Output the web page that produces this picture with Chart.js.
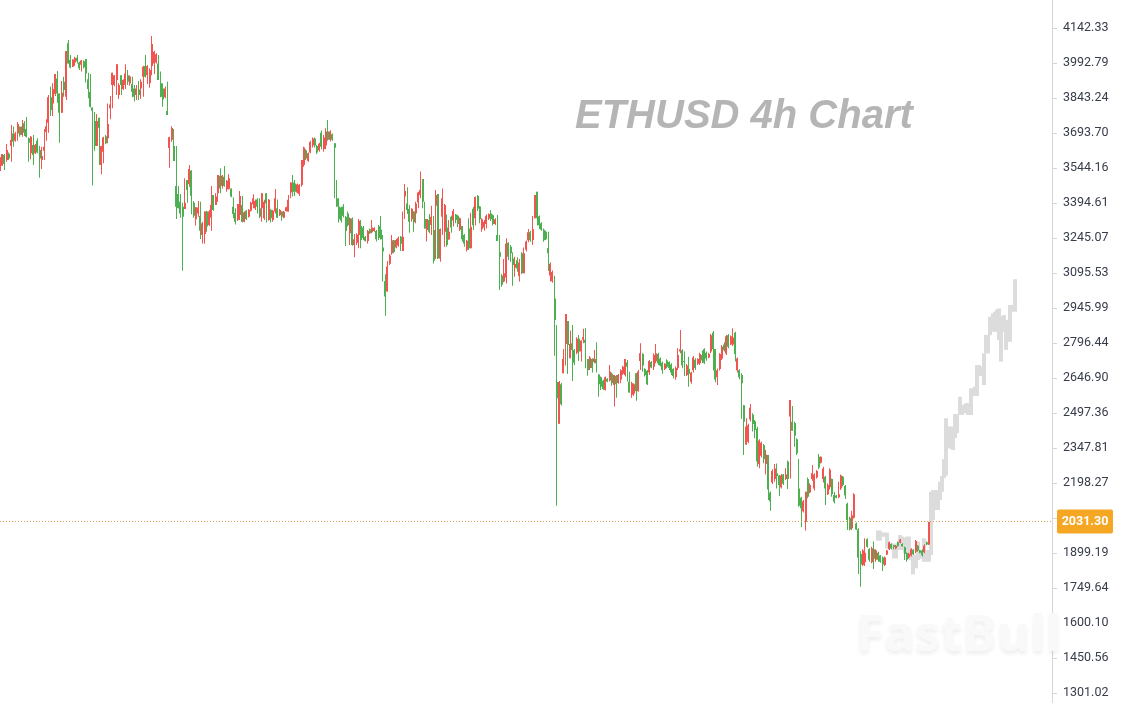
<!DOCTYPE html>
<html>
<head>
    <title>ETHUSD 4h Chart</title>
    <script src="https://cdnjs.cloudflare.com/ajax/libs/Chart.js/4.4.1/chart.umd.min.js"></script>
    <style>
        html, body { margin: 0; padding: 0; background: #fff; overflow: hidden; }
        .wrap { position: relative; width: 1123px; height: 703px; }
        canvas { display: block; }
        .title {
            position: absolute; left: 575px; top: 92px;
            font: italic bold 40px "Liberation Sans", Arial, sans-serif;
            color: #b5b5b5; white-space: nowrap;
        }
        .mark {
            position: absolute; left: 856px; top: 606px;
            font: bold 51px/50px "Open Sans", sans-serif;
            color: #f9f9f9; white-space: nowrap;
            text-shadow: 0 3px 4px rgba(0,0,0,0.07);
        }
    </style>
</head>
<body>
    <div class="wrap">
        <canvas id="ethChart" width="1123" height="703"></canvas>
        <div class="title">ETHUSD 4h Chart</div>
        <div class="mark">FastBull</div>
    </div>

    <script>
        // one slot per 4h bar, the tail of the axis stays empty
        const labels = Array.from({ length: 479 }, (_, i) => i);

        const highs = [
            3590,3604,3604,3647,3610,3728,3721,3699,3741,3721,
            3749,3745,3762,3675,3681,3685,3647,3671,3638,3635,
            3711,3753,3856,3892,3906,3946,3959,3863,3916,3934,
            4044,4091,4027,4008,4020,4027,3998,4006,4003,4010,
            3951,3946,3803,3783,3775,3759,3638,3678,3685,3820,
            3852,3951,3941,3988,3906,3941,3923,3988,3963,3939,
            3934,3899,3899,3916,3923,3981,4027,3984,3970,4108,
            4045,4034,4027,3956,3906,3892,3913,3678,3723,3711,
            3638,3467,3433,3396,3500,3493,3557,3533,3403,3376,
            3403,3400,3315,3358,3362,3365,3467,3429,3436,3514,
            3543,3514,3553,3493,3517,3457,3419,3372,3390,3446,
            3425,3358,3365,3369,3400,3432,3410,3415,3415,3436,
            3408,3436,3412,3369,3365,3454,3410,3369,3358,3360,
            3379,3429,3482,3514,3493,3478,3476,3578,3635,3624,
            3610,3661,3675,3675,3642,3652,3704,3685,3714,3749,
            3706,3692,3650,3493,3415,3379,3390,3339,3358,3333,
            3333,3262,3265,3326,3322,3296,3254,3279,3286,3322,
            3291,3279,3301,3339,3258,3090,3147,3177,3258,3237,
            3241,3251,3254,3358,3476,3462,3386,3372,3358,3400,
            3443,3529,3497,3400,3326,3348,3383,3339,3450,3433,
            3286,3457,3390,3346,3322,3341,3369,3348,3343,3333,
            3296,3262,3237,3329,3353,3379,3422,3429,3382,3329,
            3322,3346,3350,3365,3346,3329,3343,3258,3091,3155,
            3244,3227,3215,3184,3165,3163,3155,3184,3205,3234,
            3284,3276,3339,3429,3443,3341,3312,3286,3276,3272,
            3140,3106,3084,2873,2634,2626,2771,2920,2891,2849,
            2873,2771,2821,2831,2807,2857,2859,2728,2741,2731,
            2767,2800,2663,2653,2639,2653,2646,2703,2670,2660,
            2660,2664,2684,2699,2728,2724,2674,2631,2625,2667,
            2681,2795,2753,2689,2681,2724,2720,2753,2792,2755,
            2735,2717,2710,2727,2717,2710,2689,2696,2774,2852,
            2770,2760,2707,2738,2674,2741,2731,2731,2755,2764,
            2774,2760,2755,2835,2848,2771,2688,2753,2788,2800,
            2831,2835,2828,2859,2845,2735,2684,2667,2532,2475,
            2451,2536,2496,2468,2439,2385,2375,2365,2340,2318,
            2162,2257,2279,2282,2232,2237,2237,2261,2294,2553,
            2527,2460,2389,2301,2140,2126,2161,2222,2197,2275,
            2240,2254,2322,2311,2268,2228,2197,2261,2218,2161,
            2147,2204,2235,2228,2190,2114,2054,2080,2154,2029,
            2005,1908,1915,1962,1962,1919,1926,1948,1915,1905,
            1891,1884,1884,1912,1948,1941,1933,1933,1948,1959,
            1941,1926,1901,1900,1919,1915,1955,1933,1912,1915,
            1937,1948,2033
        ];
        const lows = [
            3531,3554,3536,3571,3578,3571,3635,3656,3661,3678,
            3678,3681,3675,3571,3582,3557,3604,3607,3503,3540,
            3578,3661,3695,3766,3766,3852,3823,3652,3780,3849,
            3835,3991,3970,3977,3981,3991,3963,3956,3970,3909,
            3842,3803,3469,3618,3638,3557,3518,3564,3646,3650,
            3753,3800,3894,3856,3839,3856,3877,3882,3899,3896,
            3846,3828,3835,3835,3839,3849,3931,3903,3887,3941,
            3946,3991,3920,3846,3806,3842,3771,3545,3656,3574,
            3326,3372,3332,3105,3369,3396,3464,3347,3332,3298,
            3336,3241,3222,3220,3272,3296,3276,3362,3386,3400,
            3436,3457,3464,3443,3453,3419,3329,3303,3318,3322,
            3311,3312,3322,3333,3358,3372,3365,3350,3329,3315,
            3322,3311,3319,3311,3315,3350,3332,3339,3319,3329,
            3358,3358,3415,3422,3425,3436,3425,3464,3550,3578,
            3571,3607,3632,3632,3604,3614,3624,3614,3624,3661,
            3657,3661,3415,3379,3311,3311,3333,3211,3294,3215,
            3212,3163,3215,3201,3201,3237,3230,3222,3262,3265,
            3272,3230,3237,3239,3059,2913,3016,3130,3173,3180,
            3201,3208,3190,3190,3326,3348,3268,3315,3272,3308,
            3372,3415,3372,3286,3230,3265,3258,3136,3155,3155,
            3144,3258,3208,3208,3239,3268,3294,3308,3291,3275,
            3230,3208,3187,3194,3201,3279,3298,3360,3308,3272,
            3276,3286,3322,3318,3298,3301,3232,3023,3037,3056,
            3051,3151,3144,3041,3080,3101,3059,3091,3094,3187,
            3227,3229,3215,3329,3298,3284,3276,3229,3237,3104,
            3059,3054,2742,2101,2451,2529,2667,2700,2664,2731,
            2634,2703,2748,2720,2717,2795,2689,2657,2681,2670,
            2710,2670,2567,2596,2596,2593,2629,2632,2614,2525,
            2563,2622,2625,2660,2653,2632,2585,2563,2570,2550,
            2589,2681,2674,2653,2617,2660,2689,2681,2710,2703,
            2696,2664,2681,2689,2681,2660,2646,2639,2681,2753,
            2689,2656,2656,2610,2622,2670,2681,2703,2703,2710,
            2707,2721,2731,2753,2679,2629,2617,2679,2724,2760,
            2745,2774,2788,2784,2717,2670,2642,2472,2318,2361,
            2368,2461,2418,2390,2268,2261,2307,2283,2236,2126,
            2080,2194,2204,2175,2143,2175,2190,2211,2173,2218,
            2422,2353,2318,2097,2009,2072,1995,2133,2154,2208,
            2166,2218,2257,2282,2200,2104,2147,2171,2140,2111,
            2133,2133,2168,2183,2130,1997,1995,1997,2047,1997,
            1810,1755,1844,1844,1923,1862,1855,1831,1862,1862,
            1858,1822,1844,1891,1912,1915,1915,1915,1926,1941,
            1926,1869,1862,1875,1884,1891,1898,1905,1898,1884,
            1898,1933,1933
        ];
        const opens = [
            3554,3554,3600,3578,3605,3638,3692,3661,3692,3720,
            3685,3735,3711,3671,3607,3642,3607,3661,3621,3578,
            3618,3698,3738,3846,3820,3860,3927,3863,3780,3913,
            3849,4077,4006,3977,3995,4015,3995,3985,4000,4010,
            3923,3870,3803,3745,3638,3759,3557,3614,3680,3671,
            3800,3899,3899,3920,3856,3941,3882,3899,3941,3905,
            3903,3884,3856,3880,3884,3934,3980,3941,3906,3980,
            3991,3995,3991,3906,3884,3846,3788,3630,3665,3638,
            3467,3433,3400,3379,3369,3493,3476,3533,3396,3325,
            3350,3339,3258,3262,3358,3301,3332,3429,3386,3436,
            3511,3467,3507,3453,3453,3455,3379,3353,3322,3343,
            3386,3315,3362,3336,3362,3389,3372,3410,3372,3372,
            3330,3436,3322,3365,3322,3358,3372,3342,3358,3332,
            3360,3358,3439,3482,3478,3440,3433,3472,3557,3620,
            3575,3610,3640,3670,3638,3620,3695,3625,3640,3700,
            3665,3688,3650,3415,3380,3375,3380,3335,3350,3265,
            3328,3215,3225,3258,3296,3290,3250,3232,3283,3270,
            3275,3275,3295,3280,3205,3060,3016,3135,3180,3235,
            3205,3213,3250,3190,3422,3393,3369,3325,3358,3350,
            3397,3429,3497,3326,3279,3322,3301,3279,3383,3433,
            3158,3336,3272,3290,3239,3336,3320,3345,3340,3280,
            3295,3258,3195,3286,3201,3370,3330,3425,3380,3282,
            3290,3305,3327,3350,3342,3305,3258,3184,3085,3059,
            3076,3225,3208,3158,3118,3150,3083,3180,3094,3195,
            3235,3270,3237,3329,3443,3338,3308,3280,3272,3201,
            3085,3060,2987,2630,2451,2620,2667,2792,2891,2731,
            2795,2767,2755,2815,2760,2810,2810,2728,2690,2728,
            2715,2728,2662,2650,2635,2597,2644,2636,2665,2617,
            2655,2626,2640,2665,2660,2713,2631,2575,2580,2667,
            2590,2720,2750,2685,2678,2670,2715,2695,2718,2750,
            2730,2712,2685,2722,2715,2705,2685,2650,2690,2760,
            2765,2720,2660,2685,2630,2680,2725,2708,2710,2745,
            2770,2755,2735,2760,2840,2771,2650,2685,2730,2790,
            2752,2830,2790,2790,2840,2680,2680,2660,2530,2363,
            2375,2470,2490,2462,2430,2280,2315,2360,2280,2318,
            2158,2200,2215,2240,2230,2180,2235,2215,2290,2482,
            2460,2455,2385,2175,2135,2078,2033,2215,2158,2215,
            2175,2222,2310,2285,2215,2225,2150,2180,2215,2147,
            2145,2137,2175,2225,2185,2110,2050,2005,2050,2025,
            2000,1895,1848,1860,1958,1915,1860,1915,1870,1900,
            1888,1880,1848,1893,1915,1938,1932,1918,1945,1943,
            1938,1924,1898,1880,1888,1912,1905,1930,1910,1910,
            1902,1945,1935
        ];
        const closes = [
            3585,3604,3561,3621,3585,3664,3656,3692,3732,3685,
            3721,3695,3678,3652,3678,3600,3642,3610,3585,3595,
            3635,3723,3846,3792,3882,3946,3863,3780,3866,3877,
            4044,3991,3974,4008,4015,4000,3970,4004,3975,3948,
            3882,3806,3789,3638,3745,3716,3638,3675,3650,3732,
            3816,3951,3941,3988,3899,3899,3920,3948,3913,3935,
            3870,3849,3884,3856,3913,3977,3934,3980,3963,4074,
            4041,4030,3920,3849,3837,3884,3771,3676,3715,3574,
            3379,3372,3350,3336,3396,3450,3540,3426,3340,3376,
            3375,3276,3308,3358,3294,3358,3386,3365,3422,3514,
            3457,3511,3467,3490,3500,3422,3348,3315,3390,3425,
            3315,3355,3326,3365,3396,3415,3403,3379,3336,3436,
            3400,3393,3408,3329,3362,3415,3332,3365,3336,3357,
            3376,3408,3482,3443,3443,3475,3472,3578,3632,3585,
            3607,3655,3670,3640,3610,3648,3635,3675,3700,3665,
            3700,3665,3631,3380,3325,3320,3340,3275,3300,3330,
            3215,3240,3260,3319,3237,3245,3232,3275,3265,3290,
            3288,3240,3245,3240,3187,2995,3123,3170,3235,3185,
            3237,3245,3220,3250,3446,3365,3315,3370,3312,3393,
            3440,3450,3400,3286,3326,3272,3336,3148,3429,3158,
            3284,3415,3386,3215,3272,3290,3360,3322,3305,3330,
            3240,3222,3233,3201,3293,3300,3420,3370,3325,3325,
            3315,3340,3348,3325,3305,3325,3232,3165,3045,3095,
            3220,3165,3180,3130,3134,3115,3140,3095,3180,3230,
            3270,3235,3282,3429,3330,3300,3280,3235,3240,3180,
            3135,3100,2895,2560,2630,2535,2728,2920,2788,2792,
            2767,2712,2815,2760,2807,2822,2798,2680,2735,2690,
            2730,2710,2620,2610,2600,2650,2632,2675,2625,2660,
            2620,2660,2680,2695,2728,2695,2585,2625,2620,2590,
            2675,2753,2700,2660,2620,2720,2692,2745,2753,2710,
            2700,2680,2708,2695,2690,2670,2655,2690,2745,2770,
            2700,2715,2700,2665,2670,2735,2690,2728,2750,2722,
            2712,2730,2750,2830,2770,2640,2680,2750,2780,2765,
            2825,2780,2825,2820,2750,2730,2650,2625,2460,2440,
            2445,2520,2450,2425,2290,2380,2370,2300,2320,2170,
            2120,2250,2260,2228,2190,2230,2195,2235,2215,2553,
            2422,2400,2325,2101,2090,2120,2161,2140,2190,2240,
            2235,2250,2265,2310,2260,2175,2190,2255,2150,2118,
            2135,2150,2230,2190,2145,2040,2000,2060,2150,2000,
            1880,1850,1910,1900,1925,1870,1920,1875,1910,1870,
            1862,1850,1880,1910,1945,1920,1925,1930,1930,1957,
            1928,1895,1870,1895,1915,1895,1950,1910,1900,1890,
            1930,1935,2031.3
        ];

        // grey projected path, starts at bar 399
        const ghostStart = 399;
        const ghostHigh = [
            1995,1995,1986,1986,1986,1940,1937,1940,1926,1940,
            1976,1969,1966,1969,1969,1919,1891,1891,1948,1912,
            1912,1962,1912,1912,2161,2168,2168,2168,2204,2228,
            2300,2475,2440,2439,2411,2493,2493,2567,2532,2532,
            2539,2539,2603,2603,2610,2702,2702,2695,2752,2831,
            2831,2909,2923,2930,2940,2944,2909,2916,2895,2895,
            2959,2959,3069
        ];
        const ghostLow = [
            1952,1952,1969,1969,1919,1919,1912,1876,1876,1912,
            1915,1912,1898,1898,1884,1869,1808,1834,1869,1876,
            1876,1862,1862,1862,1891,2040,2083,2083,2126,2161,
            2220,2230,2346,2346,2339,2390,2411,2489,2489,2496,
            2503,2489,2489,2570,2570,2570,2655,2655,2617,2752,
            2752,2830,2845,2845,2845,2809,2717,2845,2767,2802,
            2802,2930,2930
        ];

        const tickValues = [4142.33,3992.79,3843.24,3693.70,3544.16,3394.61,3245.07,3095.53,2945.99,2796.44,2646.90,2497.36,2347.81,2198.27,2048.73,1899.19,1749.64,1600.10,1450.56,1301.02];
        const hiddenTick = 2048.73; // sits under the price tag
        const lastPrice = 2031.30;

        const upColor = '#f2544f';
        const downColor = '#4caf50';
        const barColors = closes.map((c, i) => c >= opens[i] ? upColor : downColor);
        const ghostBars = labels.map((_, i) => {
            const k = i - ghostStart;
            return k >= 0 && k < ghostHigh.length ? [ghostLow[k], ghostHigh[k]] : null;
        });

        // snap bars to whole pixels so the thin wicks stay crisp
        const snapBars = {
            id: 'snapBars',
            afterDatasetsUpdate(chart) {
                chart.data.datasets.forEach((ds, d) => {
                    chart.getDatasetMeta(d).data.forEach(el => {
                        el.x = ds.barThickness === 1 ? Math.floor(el.x) + 0.5 : Math.round(el.x);
                    });
                });
            }
        };

        const priceTag = {
            id: 'priceTag',
            afterDraw(chart) {
                const ctx = chart.ctx;
                const y = Math.round(chart.scales.y.getPixelForValue(lastPrice)) - 0.5;
                ctx.save();
                ctx.strokeStyle = '#d8a24a';
                ctx.lineWidth = 1;
                ctx.setLineDash([1, 2]);
                ctx.beginPath();
                ctx.moveTo(0, y);
                ctx.lineTo(chart.chartArea.right, y);
                ctx.stroke();
                ctx.setLineDash([]);
                ctx.fillStyle = '#f5a623';
                ctx.beginPath();
                ctx.roundRect(1057, y - 12, 56, 24, 2);
                ctx.fill();
                ctx.fillStyle = '#fff';
                ctx.font = 'bold 12.5px Roboto';
                ctx.textAlign = 'center';
                ctx.textBaseline = 'middle';
                ctx.fillText(lastPrice.toFixed(2), 1085, y + 0.5);
                ctx.restore();
            }
        };

        new Chart(document.getElementById('ethChart'), {
            type: 'bar',
            data: {
                labels: labels,
                datasets: [{
                    data: ghostBars,
                    backgroundColor: '#dcdcdc',
                    barThickness: 4,
                    grouped: false,
                    order: 3
                }, {
                    data: highs.map((h, i) => [lows[i], h]),
                    backgroundColor: barColors,
                    barThickness: 1,
                    grouped: false,
                    order: 2
                }, {
                    data: opens.map((o, i) => [o, closes[i]]),
                    backgroundColor: barColors,
                    barThickness: 2,
                    grouped: false,
                    order: 1
                }]
            },
            options: {
                responsive: false,
                animation: false,
                events: [],
                inflateAmount: 0,
                layout: { padding: 0 },
                plugins: { legend: { display: false }, tooltip: { enabled: false } },
                scales: {
                    x: { display: false, offset: false },
                    y: {
                        position: 'right',
                        min: 1258.3,
                        max: 4262,
                        border: { color: '#d6d6d6' },
                        grid: { drawOnChartArea: false, tickLength: 5, tickColor: '#d6d6d6' },
                        afterBuildTicks: scale => { scale.ticks = tickValues.map(v => ({ value: v })); },
                        afterFit: scale => { scale.width = 71; scale.paddingTop = 0; scale.paddingBottom = 0; },
                        ticks: {
                            autoSkip: false,
                            padding: 6,
                            color: '#363c4a',
                            font: { family: 'Roboto', size: 12.5 },
                            callback: v => v === hiddenTick ? '' : v.toFixed(2)
                        }
                    }
                }
            },
            plugins: [snapBars, priceTag]
        });
    </script>
</body>
</html>
